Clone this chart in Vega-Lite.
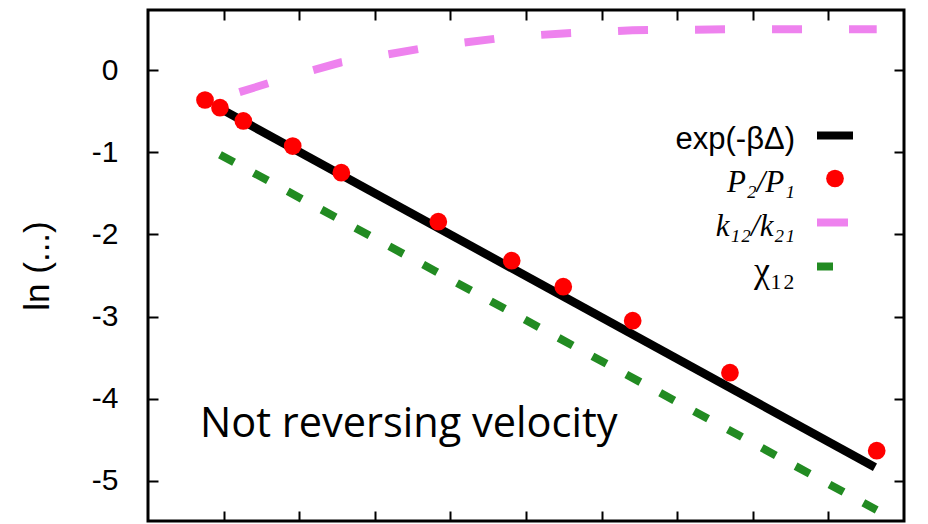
{
  "$schema": "https://vega.github.io/schema/vega-lite/v6.json",
  "width": 756,
  "height": 511,
  "autosize": {"type": "none"},
  "padding": {"left": 148, "top": 10, "right": 24, "bottom": 3},
  "background": "white",
  "config": {
    "view": {"stroke": "black", "strokeWidth": 3},
    "axis": {
      "grid": false,
      "domain": false,
      "tickSize": -10,
      "tickWidth": 2,
      "tickColor": "black",
      "labelFont": "Liberation Sans",
      "labelFontSize": 30,
      "labelColor": "black",
      "titleFont": "Liberation Sans",
      "titleFontSize": 35,
      "titleFontWeight": "normal",
      "titleColor": "black"
    },
    "legend": {"padding": 0}
  },
  "data": {
    "values": [
      {"series": "exp(-βΔ)", "x": 0.952, "y": -0.467},
      {"series": "exp(-βΔ)", "x": 9.616, "y": -4.833},
      {"series": "P₂/P₁", "x": 0.754, "y": -0.365},
      {"series": "P₂/P₁", "x": 0.952, "y": -0.459},
      {"series": "P₂/P₁", "x": 1.261, "y": -0.62},
      {"series": "P₂/P₁", "x": 1.914, "y": -0.925},
      {"series": "P₂/P₁", "x": 2.557, "y": -1.249},
      {"series": "P₂/P₁", "x": 3.84, "y": -1.846},
      {"series": "P₂/P₁", "x": 4.811, "y": -2.32},
      {"series": "P₂/P₁", "x": 5.493, "y": -2.636},
      {"series": "P₂/P₁", "x": 6.411, "y": -3.05},
      {"series": "P₂/P₁", "x": 7.698, "y": -3.683},
      {"series": "P₂/P₁", "x": 9.639, "y": -4.631},
      {"series": "k₁₂/k₂₁", "x": 1.21, "y": -0.27},
      {"series": "k₁₂/k₂₁", "x": 1.914, "y": -0.069},
      {"series": "k₁₂/k₂₁", "x": 2.557, "y": 0.094},
      {"series": "k₁₂/k₂₁", "x": 3.84, "y": 0.296},
      {"series": "k₁₂/k₂₁", "x": 4.811, "y": 0.404},
      {"series": "k₁₂/k₂₁", "x": 5.493, "y": 0.445},
      {"series": "k₁₂/k₂₁", "x": 6.411, "y": 0.484},
      {"series": "k₁₂/k₂₁", "x": 7.698, "y": 0.495},
      {"series": "k₁₂/k₂₁", "x": 9.639, "y": 0.495},
      {"series": "χ₁₂", "x": 0.952, "y": -1.03},
      {"series": "χ₁₂", "x": 9.639, "y": -5.353}
    ]
  },
  "layer": [
    {
      "transform": [{"filter": "datum.series === 'exp(-βΔ)'"}],
      "mark": {"type": "line", "strokeWidth": 8.5},
      "encoding": {
        "x": {
          "field": "x", "type": "quantitative",
          "scale": {"domain": [0, 10], "nice": false, "zero": false},
          "axis": {"orient": "bottom", "values": [1, 2, 3, 4, 5, 6, 7, 8, 9], "labels": false, "title": null}
        },
        "y": {
          "field": "y", "type": "quantitative",
          "scale": {"domain": [-5.487, 0.73], "nice": false, "zero": false},
          "axis": {"orient": "left", "values": [-5, -4, -3, -2, -1, 0], "labelPadding": 40, "labelExpr": "'' + datum.value", "title": "ln (...)", "titlePadding": 36}
        },
        "color": {
          "field": "series", "type": "nominal",
          "scale": {"domain": ["exp(-βΔ)", "P₂/P₁", "k₁₂/k₂₁", "χ₁₂"], "range": ["#000000", "#ff0000", "#ee82ee", "#228b22"]},
          "legend": {
            "title": null,
            "orient": "none",
            "legendX": 500,
            "legendY": 110,
            "labelAlign": "right",
            "labelOffset": -53,
            "symbolOffset": 169,
            "labelFont": "Liberation Sans",
            "labelFontSize": 31,
            "labelColor": "black",
            "labelLimit": 0,
            "rowPadding": 8,
            "symbolType": "stroke",
            "symbolSize": 1296,
            "symbolStrokeWidth": 8,
            "encode": {
              "symbols": {
                "update": {
                  "shape": {"signal": "datum.value === 'P₂/P₁' ? 'circle' : 'stroke'"},
                  "size": {"signal": "datum.value === 'P₂/P₁' ? 314 : datum.value === 'k₁₂/k₂₁' ? 961 : datum.value === 'χ₁₂' ? 256 : 1296"},
                  "x": {"signal": "datum.value === 'χ₁₂' ? 177 : datum.value === 'k₁₂/k₂₁' ? 184.5 : 187"},
                  "fill": {"signal": "datum.value === 'P₂/P₁' ? '#ff0000' : 'transparent'"},
                  "stroke": {"signal": "datum.value === 'exp(-βΔ)' ? '#000000' : datum.value === 'k₁₂/k₂₁' ? '#ee82ee' : datum.value === 'χ₁₂' ? '#228b22' : 'transparent'"},
                  "strokeWidth": {"signal": "datum.value === 'P₂/P₁' ? 0 : 8"},
                  "opacity": {"value": 1}
                }
              },
              "labels": {
                "update": {
                  "font": {"signal": "datum.value === 'exp(-βΔ)' ? 'Liberation Sans' : 'Liberation Serif'"},
                  "fontStyle": {"signal": "datum.value === 'P₂/P₁' || datum.value === 'k₁₂/k₂₁' ? 'italic' : 'normal'"},
                  "fontSize": {"signal": "datum.value === 'χ₁₂' ? 36 : 31"},
                  "dy": {"value": 4}
                }
              }
            }
          }
        }
      }
    },
    {
      "transform": [{"filter": "datum.series === 'k₁₂/k₂₁'"}],
      "mark": {"type": "line", "strokeWidth": 8, "strokeDash": [30, 47]},
      "encoding": {
        "x": {"field": "x", "type": "quantitative", "axis": {"orient": "top", "values": [1, 2, 3, 4, 5, 6, 7, 8, 9], "labels": false, "title": null}},
        "y": {"field": "y", "type": "quantitative", "axis": {"orient": "right", "values": [-5, -4, -3, -2, -1, 0], "labels": false, "title": null}},
        "color": {"field": "series", "type": "nominal"}
      }
    },
    {
      "transform": [{"filter": "datum.series === 'χ₁₂'"}],
      "mark": {"type": "line", "strokeWidth": 8, "strokeDash": [16, 22.5]},
      "encoding": {
        "x": {"field": "x", "type": "quantitative", "axis": null},
        "y": {"field": "y", "type": "quantitative", "axis": null},
        "color": {"field": "series", "type": "nominal"}
      }
    },
    {
      "transform": [{"filter": "datum.series === 'P₂/P₁'"}],
      "mark": {"type": "point", "filled": true, "opacity": 1, "size": 314, "shape": "circle"},
      "encoding": {
        "x": {"field": "x", "type": "quantitative", "axis": null},
        "y": {"field": "y", "type": "quantitative", "axis": null},
        "color": {"field": "series", "type": "nominal"}
      }
    },
    {
      "data": {"values": [{"note": "Not reversing velocity"}]},
      "mark": {"type": "text", "font": "Open Sans", "fontSize": 41.5, "align": "left", "baseline": "alphabetic", "color": "black"},
      "encoding": {
        "x": {"datum": 0.688, "type": "quantitative", "axis": null},
        "y": {"datum": -4.47, "type": "quantitative", "axis": null},
        "text": {"field": "note"}
      }
    }
  ],
  "resolve": {"axis": {"x": "independent", "y": "independent"}}
}
